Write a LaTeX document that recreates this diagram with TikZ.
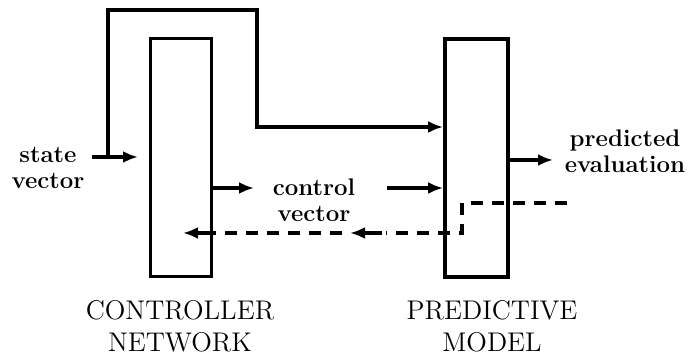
\documentclass[tikz,border=0pt]{standalone}
\usetikzlibrary{arrows.meta}
\begin{document}
\begin{tikzpicture}[x=0.5pt,y=-0.5pt,
  wire/.style={line width=1.8pt},
  tip/.style={-{Latex[length=7.5pt,width=6pt]}},
  arr/.style={wire,tip},
  dsh/.style={wire,dash pattern=on 6pt off 4.5pt},
  blk/.style={draw,line width=1.9pt,minimum width=30.5pt,minimum height=119pt,inner sep=0pt},
  lbl/.style={font=\fontsize{12}{12.8}\selectfont\bfseries,align=center,inner sep=0pt},
  captxt/.style={font=\fontsize{13.5}{16}\selectfont,align=center,inner sep=0pt}]
\useasboundingbox (0,0) rectangle (690,356);
% blocks
\node[blk] (cn) at (181,157.5) {};
\node[blk,minimum width=31.5pt] (pm) at (476.5,158) {};
% captions
\node[captxt] (cnl) at (180,326) {CONTROLLER\\NETWORK};
\node[captxt] (pml) at (492,326) {PREDICTIVE\\MODEL};
% labels
\node[lbl] (sv) at (48,168) {state\\vector};
\node[lbl] (cv) at (314,200) {control\\vector};
\node[lbl] (pe) at (625,151) {predicted\\evaluation};
% coordinates
\coordinate (s0) at (92,157);
\coordinate (s1) at (138,157);
\coordinate (f0) at (108,157);
\coordinate (f1) at (257,10);
\coordinate (f2) at (257,127);
\coordinate (c1) at (254,188);
\coordinate (c2) at (387,188);
\coordinate (o1) at (553,160);
\coordinate (d0) at (567,203);
\coordinate (d1) at (462,203);
\coordinate (d2) at (462,233);
\coordinate (d3) at (350,233);
\coordinate (d4) at (183,233);
% connectors
\draw[arr] (s0) -- (s1);
\draw[arr] (f0) |- (f1) |- (pm.west |- f2);
\draw[arr] (cn.east |- c1) -- (c1);
\draw[arr] (c2) -- (pm.west |- c2);
\draw[arr] (pm.east |- o1) -- (o1);
\draw[dsh] (d0) -- (d1) -- (d2) -- ([xshift=18]d3);
\draw[arr] ([xshift=16]d3) -- (d3);
\draw[dsh] ([xshift=-4]d3) -- ([xshift=14]d4);
\draw[arr] ([xshift=14]d4) -- (d4);
\end{tikzpicture}
\end{document}
